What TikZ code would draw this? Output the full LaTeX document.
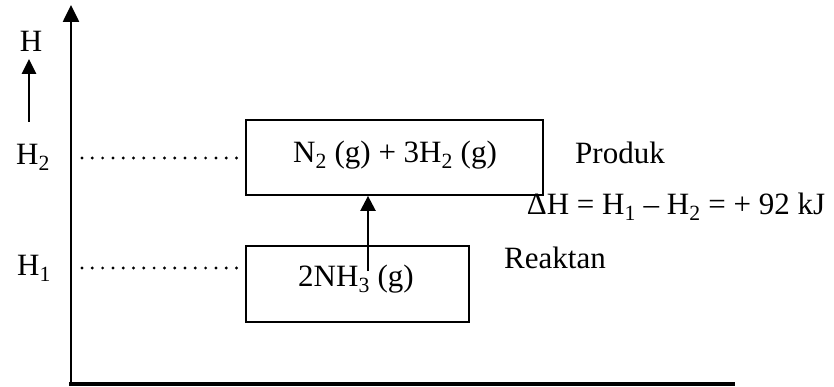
\documentclass[tikz,border=0pt]{standalone}
\usepackage{fontspec}
\setmainfont{Liberation Serif}
\usetikzlibrary{arrows.meta}
\begin{document}
\begin{tikzpicture}[x=1pt,y=-1pt,
  lbl/.style={inner sep=0pt,font=\fontsize{31}{34}\selectfont},
  box/.style={draw,line width=1.8pt,inner sep=0pt},
  dots/.style={line width=3.2pt,dash pattern=on 0pt off 10.3pt,line cap=round},
  bigtip/.style={-{Triangle[width=16pt,length=17pt]}}]
\useasboundingbox (0,0) rectangle (834,387);
% axes
\coordinate (o) at (71,384);
\coordinate (ytop) at (71,5);
\coordinate (xend) at (735,384);
\draw[line width=2.6pt,bigtip] (71,386) -- (ytop);
\draw[line width=4pt] (69,384) -- (xend);
% H label and small arrow
\node[lbl] (H) at (31,41) {H};
\coordinate (hs) at (29,122);
\coordinate (he) at (29,59);
\draw[line width=2.6pt,-{Triangle[width=14pt,length=15pt]}] (hs) -- (he);
\node[lbl] (H2) at (33,157) {H\textsubscript{2}};
\node[lbl] (H1) at (34,268) {H\textsubscript{1}};
% boxes
\node[box,minimum width=297pt,minimum height=75pt] (top) at (394.5,157.5) {};
\node[lbl] (toptext) at (395,155) {N\textsubscript{2} (g) + 3H\textsubscript{2} (g)};
\node[box,minimum width=223pt,minimum height=76pt] (bot) at (357.5,284) {};
\node[lbl] (bottext) at (356,279) {2NH\textsubscript{3} (g)};
% dotted lines
\coordinate (d2) at (82,158);
\coordinate (d1) at (82,268);
\draw[dots] (d2) -- (top.west |- d2);
\draw[dots] (d1) -- (bot.west |- d1);
% reaction arrow
\coordinate (a1) at (368,271);
\draw[line width=2.4pt,-{Triangle[width=15pt,length=15pt]}] (a1) -- (top.south -| a1);
% labels
\node[lbl] (prod) at (620,153) {Produk};
\node[lbl] (dh) at (676,207) {ΔH = H\textsubscript{1} – H\textsubscript{2} = + 92 kJ};
\node[lbl] (reak) at (555,258) {Reaktan};
\end{tikzpicture}
\end{document}
